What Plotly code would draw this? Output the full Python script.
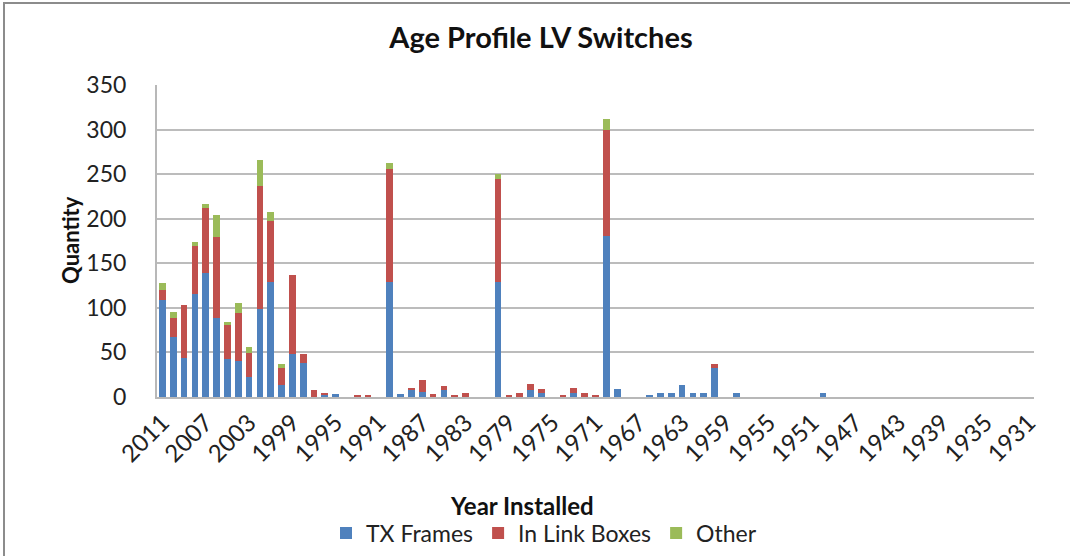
import plotly.graph_objects as go

years = [str(y) for y in range(2011, 1930, -1)]

tx_frames = [
    109, 67, 44, 115, 139, 89, 43, 40, 23, 99,
    129, 14, 48, 38, 0, 3, 3, 0, 0, 0,
    0, 129, 3, 8, 6, 0, 8, 0, 0, 0,
    0, 129, 0, 0, 8, 4, 0, 0, 5, 0,
    0, 181, 9, 0, 0, 2, 4, 4, 13, 5,
    4, 33, 0, 4, 0, 0, 0, 0, 0, 0,
    0, 5, 0, 0, 0, 0, 0, 0, 0, 0,
    0, 0, 0, 0, 0, 0, 0, 0, 0, 0,
    0,
]
link_boxes = [
    11, 22, 59, 54, 73, 90, 38, 54, 26, 138,
    68, 19, 89, 10, 8, 1, 0, 0, 2, 2,
    0, 127, 0, 2, 13, 3, 4, 2, 4, 0,
    0, 116, 2, 5, 7, 5, 0, 2, 5, 5,
    2, 119, 0, 0, 0, 0, 0, 0, 0, 0,
    0, 4, 0, 0, 0, 0, 0, 0, 0, 0,
    0, 0, 0, 0, 0, 0, 0, 0, 0, 0,
    0, 0, 0, 0, 0, 0, 0, 0, 0, 0,
    0,
]
other = [
    8, 6, 0, 5, 5, 25, 3, 11, 7, 29,
    10, 4, 0, 0, 0, 0, 0, 0, 0, 0,
    0, 6, 0, 0, 0, 0, 0, 0, 0, 0,
    0, 5, 0, 0, 0, 0, 0, 0, 0, 0,
    0, 12, 0, 0, 0, 0, 0, 0, 0, 0,
    0, 0, 0, 0, 0, 0, 0, 0, 0, 0,
    0, 0, 0, 0, 0, 0, 0, 0, 0, 0,
    0, 0, 0, 0, 0, 0, 0, 0, 0, 0,
    0,
]
tick_labels = years[::4]

FONT = "Lato"
W, H = 1070, 556
L, R, T, B = 157, 1034, 85, 397

fig = go.Figure()
for name, vals, col in [("TX Frames", tx_frames, "#4F81BD"),
                        ("In Link Boxes", link_boxes, "#C0504D"),
                        ("Other", other, "#9BBB59")]:
    fig.add_trace(go.Bar(x=years, y=[v if v else None for v in vals], name=name,
                         marker=dict(color=col, line=dict(width=0))))

pw, ph = R - L, B - T
def px(x):
    return (x - L) / pw
def py(y):
    return (B - y) / ph

fig.update_layout(
    width=W, height=H,
    margin=dict(l=L, r=W - R, t=T, b=H - B, pad=0, autoexpand=False),
    barmode="stack", bargap=0.38,
    paper_bgcolor="white", plot_bgcolor="white",
    font=dict(family=FONT, size=22, color="#222222"),
    title=dict(text="<b>Age Profile LV Switches</b>", x=541 / W, xanchor="center",
               y=1 - 38 / H, yanchor="middle", font=dict(family=FONT, size=29, color="#111111")),
    showlegend=True,
    legend=dict(orientation="h", x=px(544), xanchor="center", y=py(533), yanchor="middle",
                font=dict(family=FONT, size=23, color="#222222"), traceorder="normal",
                itemwidth=30, bgcolor="rgba(0,0,0,0)"),
    xaxis=dict(type="category", categoryorder="array", categoryarray=years,
               tickmode="array", tickvals=tick_labels, ticktext=tick_labels,
               tickangle=-45, tickfont=dict(family=FONT, size=24, color="#222222"),
               showgrid=False, showline=True, linecolor="#b8b8b8", linewidth=2,
               ticks="", zeroline=False, range=[-0.5, len(years) - 0.5]),
    yaxis=dict(range=[0, 350], dtick=50, showgrid=True, gridcolor="#bcbcbc", gridwidth=2,
               showline=True, linecolor="#b8b8b8", linewidth=2, ticks="",
               ticklabelstandoff=24, zeroline=False,
               tickfont=dict(family=FONT, size=23, color="#222222")),
    annotations=[
        dict(text="<b>Year Installed</b>", x=px(522), y=py(505), xref="paper", yref="paper",
             showarrow=False, xanchor="center", yanchor="middle",
             font=dict(family=FONT, size=24, color="#111111")),
        dict(text="<b>Quantity</b>", x=px(70), y=py(240), xref="paper", yref="paper",
             showarrow=False, xanchor="center", yanchor="middle", textangle=-90,
             font=dict(family=FONT, size=22, color="#111111")),
    ],
    shapes=[
        dict(type="rect", xref="paper", yref="paper", x0=px(4), x1=px(1080), y0=py(565), y1=py(3),
             line=dict(color="#8c8c8c", width=2), fillcolor="rgba(0,0,0,0)", layer="below"),
    ],
)

fig.write_html("out.html", config={"displayModeBar": False},
               post_script="document.body.style.margin='0';document.body.style.padding='0';")
